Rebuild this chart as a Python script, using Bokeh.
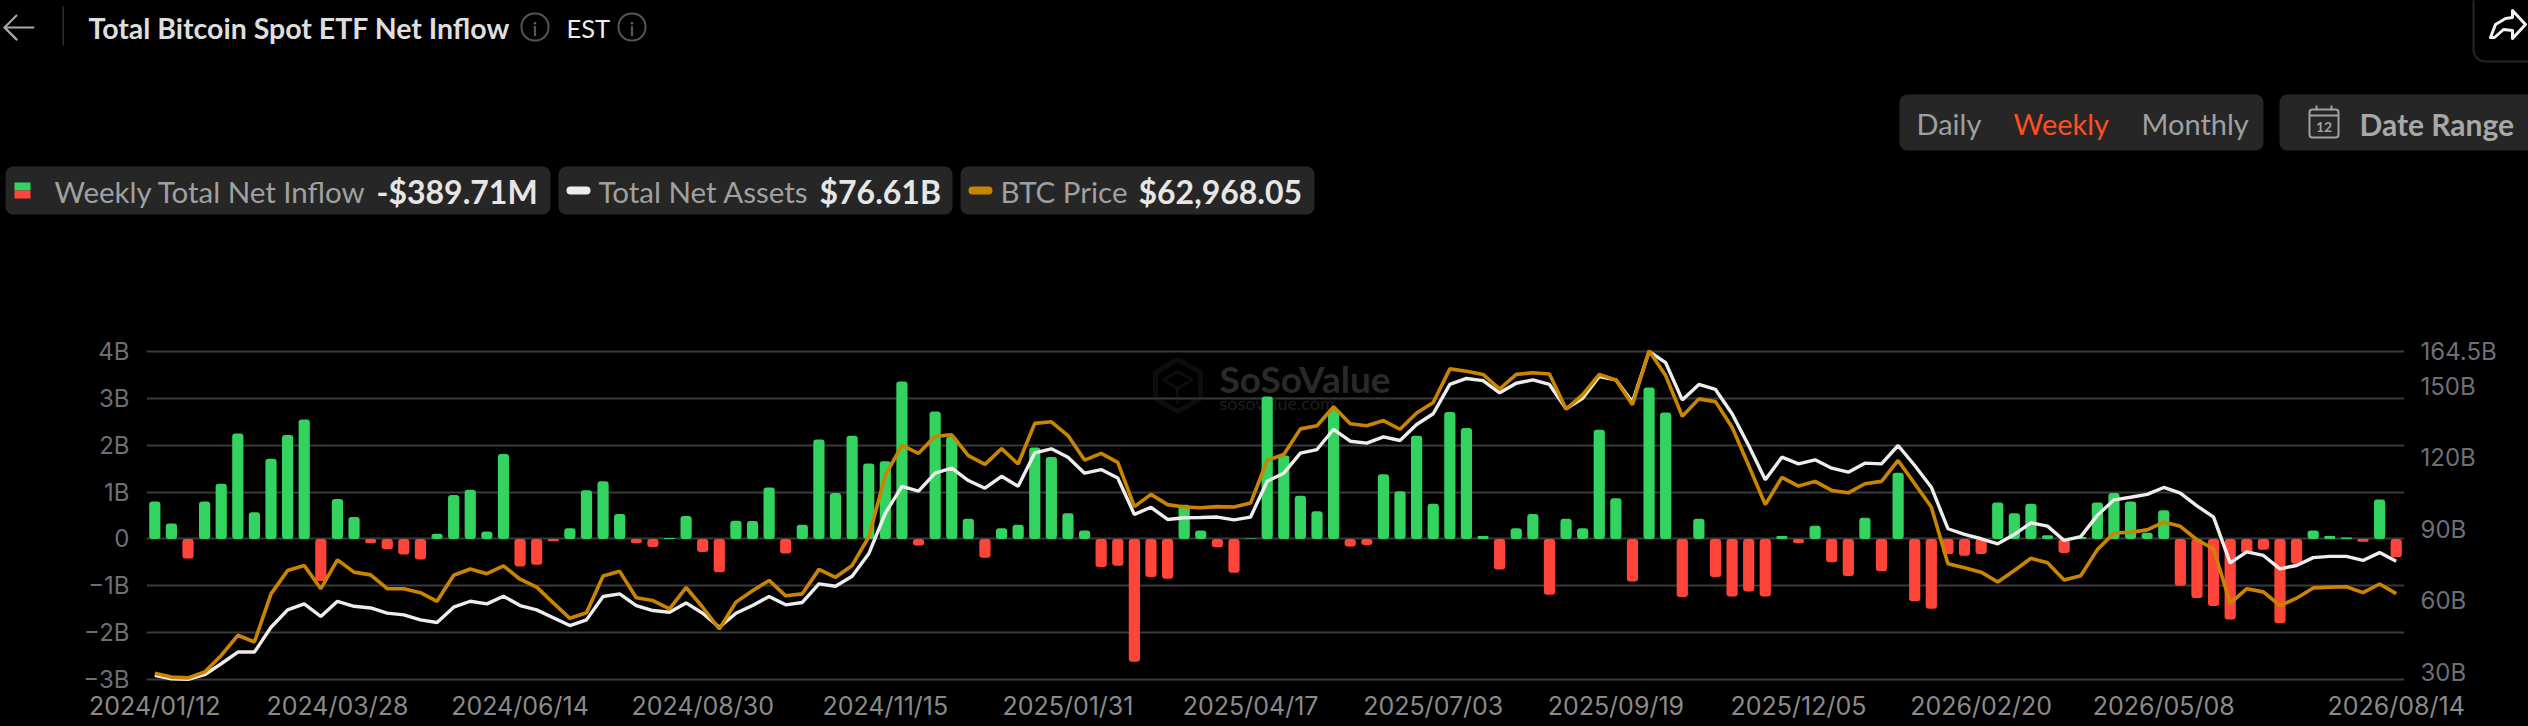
from bokeh.plotting import figure
from bokeh.core.properties import value
from bokeh.models import (ColumnDataSource, Range1d, LinearAxis, FixedTicker, Label, PolyAnnotation)
from bokeh.embed import file_html
from bokeh.resources import INLINE

net_inflow_b = [0.80,0.33,-0.42,0.80,1.18,2.25,0.57,1.71,2.22,2.55,-0.90,0.85,0.47,-0.09,-0.22,-0.33,-0.44,0.11,0.94,1.05,
0.16,1.81,-0.59,-0.55,-0.05,0.23,1.04,1.23,0.53,-0.09,-0.17,0.02,0.49,-0.28,-0.71,0.39,0.38,1.10,-0.31,0.30,
2.12,0.98,2.20,1.61,1.66,3.36,-0.14,2.72,2.18,0.43,-0.40,0.23,0.30,1.95,1.75,0.55,0.18,-0.60,-0.57,-2.62,
-0.81,-0.85,0.73,0.18,-0.18,-0.72,0.01,3.04,1.78,0.92,0.59,2.75,-0.16,-0.13,1.38,1.02,2.20,0.75,2.71,2.37,
0.06,-0.65,0.23,0.53,-1.19,0.43,0.23,2.33,0.87,-0.91,3.23,2.70,-1.24,0.43,-0.81,-1.23,-1.12,-1.23,0.06,-0.09,
0.28,-0.50,-0.79,0.45,-0.69,1.41,-1.33,-1.49,-0.32,-0.36,-0.32,0.78,0.55,0.75,0.08,-0.30,0.04,0.78,0.98,0.80,
0.13,0.61,-1.00,-1.26,-1.43,-1.72,-0.30,-0.23,-1.80,-0.53,0.18,0.06,0.03,-0.06,0.84,-0.39]

net_assets_b = [28.7,27.3,27.1,29.0,33.6,38.5,38.5,48.9,56.2,58.7,53.4,59.8,57.7,57.0,54.8,54.1,52.0,50.9,57.3,59.8,
58.7,61.9,58.0,56.2,52.9,49.6,52.0,61.8,62.9,58.0,55.9,55.2,59.1,54.8,48.9,54.8,58.0,61.8,58.3,59.3,
67.1,66.1,70.3,79.7,96.7,108.0,106.0,113.5,115.6,110.4,107.2,112.2,108.0,122.0,123.7,120.2,113.5,115.0,111.5,96.2,
99.2,94.1,94.8,94.9,95.1,93.9,95.1,110.1,113.5,121.9,123.4,131.9,126.9,126.1,128.7,127.2,133.9,138.4,150.7,153.2,
152.3,147.2,151.2,152.6,150.7,140.5,144.9,154.0,152.6,143.3,164.5,159.8,144.2,150.7,148.6,138.4,125.1,110.7,120.2,117.4,
119.1,115.6,113.9,117.7,117.4,125.1,116.7,107.6,90.2,87.8,86.0,83.9,87.8,92.7,91.3,85.3,86.9,95.8,102.3,103.4,
104.6,107.5,105.1,99.8,95.1,75.9,80.5,79.0,73.4,74.8,78.1,78.6,78.6,76.9,80.2,76.61]

btc_price_k = [42.8,41.8,41.6,43.1,47.3,52.4,50.7,62.9,68.8,70.1,64.2,71.5,68.4,67.7,64.2,64.2,63.2,61.0,67.6,69.2,
68.0,70.0,66.6,64.6,60.6,56.7,58.1,67.4,68.6,61.9,61.2,59.1,64.5,59.5,54.0,60.8,63.7,66.3,62.4,62.9,
69.1,67.1,70.1,77.3,92.9,100.5,98.5,102.8,103.2,97.9,95.7,99.7,95.8,106.1,106.5,103.0,96.8,98.5,96.2,85.0,
88.1,85.5,84.9,84.7,85.0,84.9,85.9,96.7,98.2,104.7,105.5,110.3,106.0,105.5,106.8,104.6,108.7,111.4,119.9,119.3,
118.5,114.8,118.5,118.9,118.6,109.7,113.4,118.5,117.1,110.8,124.5,118.2,107.9,112.3,111.6,105.1,95.4,85.5,92.4,90.2,
91.4,89.1,88.5,90.8,91.4,96.7,90.8,84.9,70.5,69.5,68.4,65.9,68.8,71.9,70.8,66.4,67.5,74.1,78.3,78.5,
79.1,81.1,80.0,76.6,74.3,60.5,64.2,63.4,59.9,61.8,64.4,64.6,64.7,63.2,65.4,62.97]

x_tick_index = [0,11,22,33,44,55,66,77,88,99,110,121,135]
x_tick_labels = ["2024/01/12","2024/03/28","2024/06/14","2024/08/30","2024/11/15","2025/01/31","2025/04/17",
                 "2025/07/03","2025/09/19","2025/12/05","2026/02/20","2026/05/08","2026/08/14"]
left_ticks = [-3,-2,-1,0,1,2,3,4]
left_labels = ["\u22123B","\u22122B","\u22121B","0","1B","2B","3B","4B"]
right_ticks = [30,60,90,120,150,164.5]
right_labels = ["30B","60B","90B","120B","150B","164.5B"]

W, H = 2528, 726
HEAD = 300
FONT = "Lato"
GREEN, RED, GOLD, WHITE = "#32D35E", "#FF453A", "#C98500", "#EDEDED"

idx = list(range(len(net_inflow_b)))
src = ColumnDataSource(dict(
    x=idx,
    top=[max(v, 0) for v in net_inflow_b],
    bottom=[min(v, 0) for v in net_inflow_b],
    color=[GREEN if v >= 0 else RED for v in net_inflow_b],
    assets=net_assets_b,
    btc=btc_price_k,
))

# ---------- chart ----------
# the frame is 2px taller than the outer gridlines on each side so they are not clipped
p = figure(width=W, height=H-HEAD, output_backend="svg", toolbar_location=None,
           x_range=Range1d(-0.5, 135.5), y_range=Range1d(-3.043, 4.043),
           background_fill_color="#000000", border_fill_color="#000000",
           min_border_left=146, min_border_right=124, min_border_top=349-HEAD, min_border_bottom=45,
           outline_line_color=None)
p.extra_y_ranges = {"assets": Range1d(26.16, 165.34), "btc": Range1d(40.69, 124.81)}

p.xaxis.ticker = FixedTicker(ticks=x_tick_index)
p.xaxis.major_label_overrides = dict(zip(x_tick_index, x_tick_labels))
p.yaxis.ticker = FixedTicker(ticks=left_ticks)
p.yaxis.major_label_overrides = dict(zip(left_ticks, left_labels))
right = LinearAxis(y_range_name="assets", ticker=FixedTicker(ticks=right_ticks),
                   major_label_overrides=dict(zip(right_ticks, right_labels)))
p.add_layout(right, "right")
for ax, col, size in ((p.xaxis[0], "#8A8A8A", "25px"), (p.yaxis[0], "#6E6E76", "24px"), (right, "#6E6E76", "24px")):
    ax.axis_line_color = None
    ax.major_tick_line_color = None
    ax.minor_tick_line_color = None
    ax.major_tick_out = 0
    ax.major_tick_in = 0
    ax.major_label_text_color = col
    ax.major_label_text_font = "Inter"
    ax.major_label_text_font_size = size
p.xaxis[0].major_label_standoff = 9
p.yaxis[0].major_label_standoff = 17
right.major_label_standoff = 16
p.xgrid.visible = False
p.ygrid.ticker = FixedTicker(ticks=left_ticks)
p.ygrid.grid_line_color = "#3A3A3A"
p.ygrid.grid_line_width = 2

# watermark, under the bars; positions are full-page pixels
WM = "#2A2A2A"
def wm_poly(xs, ys, lw):
    p.add_layout(PolyAnnotation(xs=xs, ys=[v-HEAD for v in ys], xs_units="canvas", ys_units="canvas",
                                fill_alpha=0, line_color=WM, line_width=lw, level="underlay"))
def wm_label(txt, x, y, size, color, style):
    p.add_layout(Label(x=x, y=y-HEAD, x_units="canvas", y_units="canvas", text=txt, text_font=FONT,
                       text_font_size=f"{size}px", text_color=color, text_font_style=style,
                       text_baseline="middle", level="underlay"))
wm_poly([1177,1200,1200,1177,1155,1155],[359,372,398,411,398,372], 5)
wm_poly([1163,1177,1192,1177],[379,371,379,388], 3)
wm_poly([1177,1177],[388,404], 3)
wm_label("SoSoValue", 1219, 378, 37, WM, "bold")
wm_label("sosovalue.com", 1219, 402, 18, "#1E1E1E", "normal")

p.vbar(x="x", top="top", bottom="bottom", width=0.675, fill_color="color", line_color=None,
       border_radius=3, source=src)
p.line(x="x", y="assets", y_range_name="assets", line_color=WHITE, line_width=3.4, source=src)
p.line(x="x", y="btc", y_range_name="btc", line_color=GOLD, line_width=3.6, source=src)

# ---------- page header: its data space is page pixels, y running down ----------
h = figure(width=W, height=HEAD, output_backend="svg", toolbar_location=None,
           x_range=Range1d(0, W), y_range=Range1d(HEAD, 0),
           background_fill_color="#000000", border_fill_color="#000000",
           min_border=0, outline_line_color=None)
h.xaxis.visible = False
h.yaxis.visible = False
h.xgrid.visible = False
h.ygrid.visible = False

def box(l, r, t, b, fill="#262626", line=None, radius=8, lw=1):
    h.quad(left=l, right=r, top=t, bottom=b, fill_color=fill, fill_alpha=1 if fill else 0,
           line_color=line, line_width=lw, line_alpha=1 if line else 0, border_radius=radius)

def label(txt, x, y, size, color, bold=False, align="left", font=FONT):
    h.text(x=[x], y=[y], text=[txt], text_font=value(font), text_font_size=value(f"{size}px"),
           text_color=color, text_font_style="bold" if bold else "normal",
           text_align=align, text_baseline="middle")

def poly(xs, ys, color, lw=2):
    h.line(x=xs, y=ys, line_color=color, line_width=lw, line_join="round", line_cap="round")

poly([33,4,16,4,16],[27,27,15,27,39], "#A8A8A8")
poly([4,16],[27,39], "#A8A8A8")
box(62, 63.5, 6, 45, fill="#2E2E2E", radius=0)
label("Total Bitcoin Spot ETF Net Inflow", 88, 27, 28.5, "#DEDEDE", bold=True)
box(521, 548, 13, 40, fill=None, line="#555555", radius=13, lw=2)
label("i", 534.5, 27, 20, "#666666", align="center")
label("EST", 566, 27, 25.5, "#EDEDED")
box(618, 645, 13, 40, fill=None, line="#555555", radius=13, lw=2)
label("i", 631.5, 27, 20, "#666666", align="center")

box(5, 550, 166, 214)
box(14, 30, 182, 190, fill=GREEN, radius=0)
box(14, 30, 190, 198, fill=RED, radius=0)
label("Weekly Total Net Inflow", 54, 191, 29.5, "#A0A0A0")
label("-$389.71M", 376, 191, 32, "#E6E6E6", bold=True)
box(558, 952, 166, 214)
box(566, 590, 186, 194, fill="#EDEDED", radius=4)
label("Total Net Assets", 598, 191, 29.5, "#A0A0A0")
label("$76.61B", 819, 191, 32, "#E6E6E6", bold=True)
box(960, 1314, 166, 214)
box(968, 992, 186, 194, fill=GOLD, radius=4)
label("BTC Price", 1000, 191, 29.5, "#A0A0A0")
label("$62,968.05", 1138, 191, 32, "#E6E6E6", bold=True)

box(1899, 2263, 94, 150)
label("Daily", 1916, 123, 29, "#A0A0A0")
label("Weekly", 2013, 123, 29, "#FF4F1F")
label("Monthly", 2141, 123, 29, "#A0A0A0")
box(2279, 2540, 94, 150)
box(2309, 2338, 109, 137, fill=None, line="#A0A0A0", radius=3, lw=2)
box(2309, 2338, 114, 116, fill="#A0A0A0", radius=0)
box(2315, 2317, 105, 110, fill="#A0A0A0", radius=0)
box(2330, 2332, 105, 110, fill="#A0A0A0", radius=0)
label("12", 2323.5, 126, 14, "#A0A0A0", align="center", bold=True)
label("Date Range", 2359, 123, 30, "#A8A8A8", bold=True)

box(2473, 2560, -20, 61, fill="#000000", line="#262626", radius=12, lw=2)
poly([2490,2495,2505,2512,2512,2525,2512,2512,2503,2494,2490],[37,24,18,17,10,24,38,30,29,37,37], "#F2F2F2", lw=3)

html = file_html([h, p], INLINE, title="Total Bitcoin Spot ETF Net Inflow")
html = html.replace("</head>", "<style>html,body{background:#000000;}</style></head>", 1)
open("out.html", "w").write(html)
